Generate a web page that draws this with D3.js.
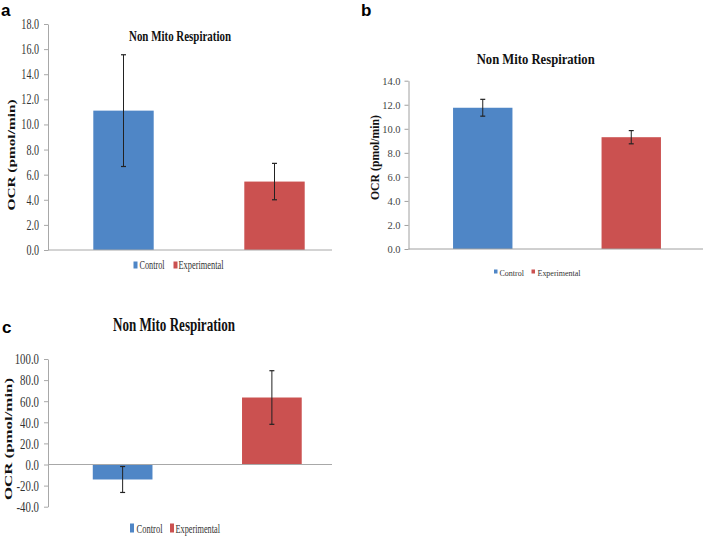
<!DOCTYPE html>
<html>
<head>
<meta charset="utf-8">
<script src="https://cdn.jsdelivr.net/npm/d3@7"></script>
<style>
  html, body { margin: 0; padding: 0; background: #fff; }
  svg { display: block; }
</style>
</head>
<body>
<svg id="chart" width="708" height="539"></svg>
<script>
// ---------- DATA ----------
const categories = ["Control", "Experimental"];
const meansA = [11.1, 5.45];
const errorsA = [4.45, 1.45];
const meansB = [11.75, 9.3];
const errorsB = [0.7, 0.55];
const meansC = [-14.2, 63.5];
const errorsC = [12.3, 25.4];
const ticksA = [0, 2, 4, 6, 8, 10, 12, 14, 16, 18];
const ticksB = [0, 2, 4, 6, 8, 10, 12, 14];
const ticksC = [-40, -20, 0, 20, 40, 60, 80, 100];
const titleText = "Non Mito Respiration";
const yLabelText = "OCR (pmol/min)";
const panelLetters = ["a", "b", "c"];

// ---------- RENDER ----------
const svg = d3.select("#chart");
const colors = ["#4f86c6", "#cb5150"];

function fitWidth(sel, width) {
  sel.attr("textLength", width).attr("lengthAdjust", "spacingAndGlyphs");
}
function condense(sel, factor) {
  sel.each(function () {
    const w = this.getComputedTextLength();
    d3.select(this).attr("textLength", w * factor).attr("lengthAdjust", "spacingAndGlyphs");
  });
}

function drawPanel(cfg) {
  const g = svg.append("g");
  const x = d3.scaleBand().domain(categories)
    .range([cfg.x0, cfg.x0 + cfg.w]).paddingInner(0.6).paddingOuter(0.3);
  const y = d3.scaleLinear().domain(cfg.domain).range([cfg.yBottom, cfg.yTop]);

  // y axis
  const axis = d3.axisLeft(y).tickValues(cfg.ticks).tickFormat(d => d.toFixed(1))
    .tickSize(4).tickSizeOuter(0).tickPadding(cfg.tickPad);
  const ay = g.append("g").attr("transform", `translate(${cfg.x0},0)`).call(axis);
  ay.select(".domain").attr("stroke", cfg.axisColor);
  ay.selectAll(".tick line").attr("stroke", cfg.axisColor);
  const tt = ay.selectAll(".tick text")
    .attr("font-family", cfg.tickFont).attr("font-size", cfg.tickSize)
    .attr("fill", cfg.tickColor);
  if (cfg.tickCondense) condense(tt, cfg.tickCondense);

  // bars
  const rows = categories.map((c, i) => ({ c, v: cfg.means[i], e: cfg.errors[i], i }));
  g.selectAll("rect.bar").data(rows).enter().append("rect")
    .attr("class", "bar")
    .attr("x", d => x(d.c))
    .attr("width", x.bandwidth())
    .attr("y", d => y(Math.max(0, d.v)))
    .attr("height", d => Math.abs(y(d.v) - y(0)))
    .attr("fill", d => colors[d.i]);

  // x axis line at zero
  g.append("line").attr("x1", cfg.x0).attr("x2", cfg.xEnd)
    .attr("y1", y(0)).attr("y2", y(0)).attr("stroke", cfg.axisColor);

  // error bars
  const eb = g.selectAll("g.err").data(rows).enter().append("g").attr("class", "err");
  const cx = d => x(d.c) + x.bandwidth() / 2;
  eb.append("line").attr("x1", cx).attr("x2", cx)
    .attr("y1", d => y(d.v + d.e)).attr("y2", d => y(d.v - d.e))
    .attr("stroke", "#222").attr("stroke-width", 1);
  [1, -1].forEach(s => {
    eb.append("line").attr("x1", d => cx(d) - 2.5).attr("x2", d => cx(d) + 2.5)
      .attr("y1", d => y(d.v + s * d.e)).attr("y2", d => y(d.v + s * d.e))
      .attr("stroke", "#222").attr("stroke-width", 1.2);
  });

  // title
  const t = g.append("text").attr("x", cfg.title.x).attr("y", cfg.title.y)
    .attr("text-anchor", "middle").attr("dominant-baseline", "central")
    .attr("font-family", cfg.title.font).attr("font-weight", "bold")
    .attr("font-size", cfg.title.size).attr("fill", "#111").text(titleText);
  fitWidth(t, cfg.title.w);

  // y label
  const yl = g.append("text")
    .attr("transform", `translate(${cfg.ylab.x},${cfg.ylab.y}) rotate(-90)`)
    .attr("text-anchor", "middle").attr("dominant-baseline", "central")
    .attr("font-family", cfg.ylab.font).attr("font-weight", "bold")
    .attr("font-size", cfg.ylab.size).attr("fill", "#111").text(yLabelText);
  fitWidth(yl, cfg.ylab.w);

  // legend
  const lg = cfg.legend;
  categories.forEach((c, i) => {
    g.append("rect").attr("x", lg.sq[i]).attr("y", lg.sqY)
      .attr("width", lg.sqW).attr("height", lg.sqH).attr("fill", colors[i]);
    const lt = g.append("text").attr("x", lg.tx[i]).attr("y", lg.ty)
      .attr("font-family", lg.font).attr("font-size", lg.size)
      .attr("fill", "#333").text(c);
    fitWidth(lt, lg.tw[i]);
  });

  // panel letter
  g.append("text").attr("x", cfg.letter.x).attr("y", cfg.letter.y)
    .attr("font-family", "Liberation Sans, Arial, sans-serif").attr("font-weight", "bold")
    .attr("font-size", 17).attr("fill", "#000").text(cfg.letter.t);
}

const serif = "Liberation Serif, Times New Roman, serif";

drawPanel({
  means: meansA, errors: errorsA, ticks: ticksA, domain: [0, 18],
  x0: 48, w: 302, xEnd: 332, yBottom: 250, yTop: 24,
  tickPad: 5, tickFont: serif, tickSize: 14, tickCondense: 0.72,
  tickColor: "#333", axisColor: "#a8a8a8",
  title: { x: 180, y: 36, w: 102, size: 15, font: serif },
  ylab: { x: 11, y: 155, w: 111, size: 11, font: serif },
  legend: { sq: [133.5, 173.5], sqY: 261.5, sqW: 4, sqH: 7, tx: [139.5, 178.5], ty: 268.5,
            tw: [25, 45], size: 12, font: serif },
  letter: { x: 1, y: 15.5, t: panelLetters[0] }
});

drawPanel({
  means: meansB, errors: errorsB, ticks: ticksB, domain: [0, 14],
  x0: 408.5, w: 297, xEnd: 703, yBottom: 249, yTop: 80.7,
  tickPad: 4, tickFont: serif, tickSize: 10.5, tickCondense: 0,
  tickColor: "#444", axisColor: "#a0a0a0",
  title: { x: 535.7, y: 59.3, w: 118, size: 14, font: serif },
  ylab: { x: 375, y: 157.5, w: 85, size: 12, font: serif },
  legend: { sq: [494, 531.5], sqY: 269.5, sqW: 3.5, sqH: 4, tx: [499.5, 537.5], ty: 275.5,
            tw: [24.5, 43], size: 9, font: serif },
  letter: { x: 361, y: 16, t: panelLetters[1] }
});

drawPanel({
  means: meansC, errors: errorsC, ticks: ticksC, domain: [-40, 100],
  x0: 48, w: 298.5, xEnd: 332, yBottom: 506.7, yTop: 359,
  tickPad: 5, tickFont: serif, tickSize: 15, tickCondense: 0.72,
  tickColor: "#333", axisColor: "#a8a8a8",
  title: { x: 174, y: 325, w: 122, size: 18, font: serif },
  ylab: { x: 8, y: 439, w: 122, size: 11, font: serif },
  legend: { sq: [130, 170], sqY: 523.5, sqW: 4, sqH: 9, tx: [136.5, 175.5], ty: 532.5,
            tw: [26, 44.5], size: 13, font: serif },
  letter: { x: 2, y: 333, t: panelLetters[2] }
});
</script>
</body>
</html>
